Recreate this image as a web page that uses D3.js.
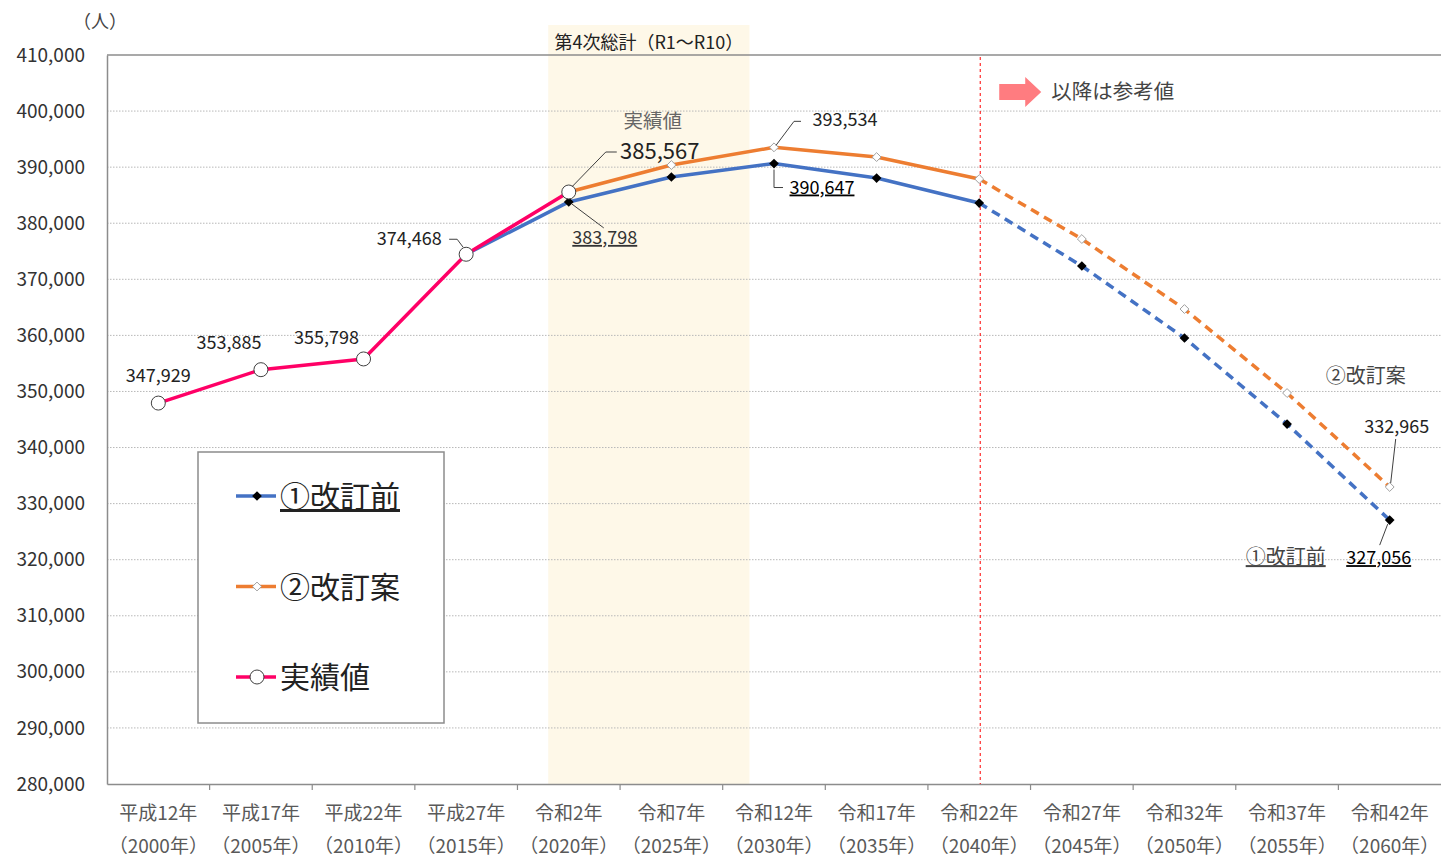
<!DOCTYPE html>
<html>
<head>
<meta charset="utf-8">
<script src="https://cdn.jsdelivr.net/npm/d3@7"></script>
<style>
  body { margin: 0; background: #fff; }
  svg { display: block; font-family: "Noto Sans CJK JP", "Noto Sans", sans-serif; }
</style>
</head>
<body>
<div id="chart"></div>
<script>
// categories
const eraLabels = ['平成12年', '平成17年', '平成22年', '平成27年', '令和2年', '令和7年', '令和12年',
  '令和17年', '令和22年', '令和27年', '令和32年', '令和37年', '令和42年'];
const years = [2000, 2005, 2010, 2015, 2020, 2025, 2030, 2035, 2040, 2045, 2050, 2055, 2060];

// series
const actual = [347929, 353885, 355798, 374468, 385567];                // 2000-2020
const beforeYears = [2015, 2020, 2025, 2030, 2035, 2040, 2045, 2050, 2055, 2060];
const beforeVals = [374468, 383798, 388240, 390647, 388060, 383600, 372370, 359530, 344190, 327056];
const planYears = [2020, 2025, 2030, 2035, 2040, 2045, 2050, 2055, 2060];
const planVals = [385567, 390380, 393534, 391800, 387880, 377180, 364700, 349720, 332965];

const yTicks = d3.range(280000, 410001, 10000);
const planPeriod = [2019, 2029];   // 第4次総計 R1〜R10
const refYear = 2040;              // 以降は参考値

const width = 1441, height = 858;
const margin = { top: 55, right: 0, bottom: 74, left: 107 };

const svg = d3.select('#chart').append('svg')
  .attr('width', width).attr('height', height);

const x = d3.scaleBand().domain(years).range([margin.left, width - margin.right]).padding(0);
const y = d3.scaleLinear().domain([280000, 410000]).range([height - margin.bottom, margin.top]);
const step = x.bandwidth();
const xc = (yr) => x(years[0]) + step / 2 + (yr - years[0]) / 5 * step;

const fmt = d3.format(',');

// plan period shading
svg.append('rect')
  .attr('x', xc(planPeriod[0])).attr('width', xc(planPeriod[1]) - xc(planPeriod[0]) - 4)
  .attr('y', 25).attr('height', y(280000) - 25)
  .attr('fill', '#fef8e8');

svg.append('text').attr('x', (xc(planPeriod[0]) + xc(planPeriod[1])) / 2 - 2).attr('y', 49)
  .attr('text-anchor', 'middle').attr('font-size', 18).attr('fill', '#222')
  .text('第4次総計（R1〜R10）');

// grid
svg.append('g').selectAll('line').data(yTicks.slice(1, -1)).join('line')
  .attr('x1', margin.left).attr('x2', width - margin.right)
  .attr('y1', d => y(d)).attr('y2', d => y(d))
  .attr('stroke', '#b8b8b8').attr('stroke-dasharray', '1.5,1.5');
svg.append('line')
  .attr('x1', margin.left).attr('x2', width).attr('y1', y(410000)).attr('y2', y(410000))
  .attr('stroke', '#8c8c8c').attr('stroke-width', 1.5);

// y axis
const yAxis = svg.append('g').attr('transform', `translate(${margin.left},0)`)
  .call(d3.axisLeft(y).tickValues(yTicks).tickFormat(fmt).tickSize(0).tickPadding(22));
yAxis.select('.domain').attr('stroke', '#8c8c8c').attr('stroke-width', 1.5);
yAxis.selectAll('text').attr('font-size', 19).attr('fill', '#333')
  .attr('font-family', '"Noto Sans CJK JP", sans-serif');

svg.append('text').attr('x', 100).attr('y', 28).attr('text-anchor', 'middle')
  .attr('font-size', 18).attr('fill', '#444').text('（人）');

// x axis
const xAxis = svg.append('g').attr('transform', `translate(0,${y(280000)})`)
  .call(d3.axisBottom(x).tickSize(0).tickFormat(() => ''));
xAxis.select('.domain').attr('stroke', '#8c8c8c').attr('stroke-width', 1.5);
xAxis.selectAll('.tick').remove();
svg.append('g').selectAll('line').data(years.slice(1)).join('line')
  .attr('x1', d => x(d)).attr('x2', d => x(d))
  .attr('y1', y(280000)).attr('y2', y(280000) + 6)
  .attr('stroke', '#8c8c8c').attr('stroke-width', 1.2);

const xl = svg.append('g').selectAll('text').data(years).join('text')
  .attr('x', d => x(d) + step / 2).attr('text-anchor', 'middle')
  .attr('font-size', 19).attr('fill', '#595959');
xl.append('tspan').attr('x', d => x(d) + step / 2).attr('y', 820).text((d, i) => eraLabels[i]);
xl.append('tspan').attr('x', d => x(d) + step / 2).attr('y', 853).text(d => `（${d}年）`);

// reference divider
svg.append('line')
  .attr('x1', xc(refYear) + 1).attr('x2', xc(refYear) + 1)
  .attr('y1', y(410000) + 2).attr('y2', y(280000))
  .attr('stroke', '#ff0000').attr('stroke-width', 1).attr('stroke-dasharray', '3,3');

// arrow + text
const ay = 92;
const ax = xc(refYear) + 20;
svg.append('path')
  .attr('d', `M${ax},${ay - 8} L${ax + 26},${ay - 8} L${ax + 26},${ay - 15} L${ax + 42},${ay} L${ax + 26},${ay + 15} L${ax + 26},${ay + 8} L${ax},${ay + 8} Z`)
  .attr('fill', '#ff7c80');
svg.append('text').attr('x', ax + 52).attr('y', ay + 7).attr('font-size', 20.5).attr('fill', '#444')
  .text('以降は参考値');

// lines
const line = d3.line().x(d => xc(d[0])).y(d => y(d[1]));
const beforePts = beforeYears.map((yr, i) => [yr, beforeVals[i]]);
const planPts = planYears.map((yr, i) => [yr, planVals[i]]);
const actualPts = years.slice(0, actual.length).map((yr, i) => [yr, actual[i]]);

function drawSeries(pts, color) {
  const solid = pts.filter(d => d[0] <= refYear);
  const dashed = pts.filter(d => d[0] >= refYear);
  svg.append('path').attr('d', line(solid)).attr('fill', 'none')
    .attr('stroke', color).attr('stroke-width', 3.5).attr('stroke-linejoin', 'round');
  svg.append('path').attr('d', line(dashed)).attr('fill', 'none')
    .attr('stroke', color).attr('stroke-width', 3.5).attr('stroke-dasharray', '9,6');
}
drawSeries(beforePts, '#4472c4');
drawSeries(planPts, '#ed7d31');
svg.append('path').attr('d', line(actualPts)).attr('fill', 'none')
  .attr('stroke', '#ff0066').attr('stroke-width', 3.5).attr('stroke-linejoin', 'round');

const diamond = d3.symbol().type(d3.symbolDiamond2);
svg.append('g').selectAll('path').data(beforePts.slice(1)).join('path')
  .attr('transform', d => `translate(${xc(d[0])},${y(d[1])})`)
  .attr('d', diamond.size(60)()).attr('fill', '#000');
svg.append('g').selectAll('path').data(planPts.slice(1)).join('path')
  .attr('transform', d => `translate(${xc(d[0])},${y(d[1])})`)
  .attr('d', diamond.size(50)()).attr('fill', '#fff').attr('stroke', '#a0a0a0').attr('stroke-width', 1);
svg.append('g').selectAll('circle').data(actualPts).join('circle')
  .attr('cx', d => xc(d[0])).attr('cy', d => y(d[1])).attr('r', 7)
  .attr('fill', '#fff').attr('stroke', '#404040').attr('stroke-width', 1);

// data labels
function label(tx, ty, text, opts = {}) {
  return svg.append('text').attr('x', tx).attr('y', ty)
    .attr('font-size', opts.size || 18).attr('fill', opts.fill || '#222')
    .attr('text-anchor', opts.anchor || 'middle')
    .attr('text-decoration', opts.underline ? 'underline' : null)
    .text(text);
}
function leader(points) {
  svg.append('path').attr('d', d3.line()(points)).attr('fill', 'none')
    .attr('stroke', '#404040').attr('stroke-width', 1);
}

label(xc(2000), y(actual[0]) - 21, fmt(actual[0]));
label(xc(2005) - 32, y(actual[1]) - 21, fmt(actual[1]));
label(xc(2010) - 37, y(actual[2]) - 15, fmt(actual[2]));
label(xc(2015) - 57, y(actual[3]) - 9, fmt(actual[3]));
leader([[xc(2015) - 17, y(actual[3]) - 15], [xc(2015) - 9, y(actual[3]) - 15], [xc(2015) - 3, y(actual[3]) - 7]]);

// 2020 actual
label(xc(2020) + 84, y(actual[4]) - 64, '実績値', { size: 19.5, fill: '#666' });
label(xc(2020) + 91, y(actual[4]) - 33, fmt(actual[4]), { size: 22 });
leader([[xc(2020) + 3, y(actual[4]) - 5], [xc(2020) + 37, y(actual[4]) - 40], [xc(2020) + 48, y(actual[4]) - 40]]);
label(xc(2020) + 36, y(beforeVals[1]) + 42, fmt(beforeVals[1]), { underline: true, fill: '#333' });
leader([[xc(2020) + 3, y(beforeVals[1]) + 2], [xc(2020) + 35, y(beforeVals[1]) + 26]]);

// 2030
label(xc(2030) + 71, y(planVals[2]) - 21, fmt(planVals[2]));
leader([[xc(2030) + 2, y(planVals[2]) - 2], [xc(2030) + 20, y(planVals[2]) - 26], [xc(2030) + 27, y(planVals[2]) - 26]]);
label(xc(2030) + 48, y(beforeVals[3]) + 30, fmt(beforeVals[3]), { underline: true, fill: '#000' });
leader([[xc(2030), y(beforeVals[3]) + 6], [xc(2030), y(beforeVals[3]) + 24], [xc(2030) + 9, y(beforeVals[3]) + 24]]);

// 2060
label(xc(2060) - 24, y(planVals[8]) - 104, '②改訂案', { size: 20, fill: '#444' });
label(xc(2060) + 7, y(planVals[8]) - 54, fmt(planVals[8]));
leader([[xc(2060) + 6, y(planVals[8]) - 48], [xc(2060) + 1, y(planVals[8]) - 4]]);
label(xc(2060) - 104, y(beforeVals[9]) + 44, '①改訂前', { size: 20, fill: '#444', underline: true });
label(xc(2060) - 11, y(beforeVals[9]) + 44, fmt(beforeVals[9]), { underline: true, fill: '#000' });
leader([[xc(2060) - 10, y(beforeVals[9]) + 25], [xc(2060) - 2, y(beforeVals[9]) + 4]]);

// legend
const lg = svg.append('g');
lg.append('rect').attr('x', 198).attr('y', 452).attr('width', 246).attr('height', 271)
  .attr('fill', '#fff').attr('stroke', '#8c8c8c').attr('stroke-width', 1.5);
const legendItems = [
  { name: '①改訂前', color: '#4472c4', mark: 'before', underline: true },
  { name: '②改訂案', color: '#ed7d31', mark: 'plan' },
  { name: '実績値', color: '#ff0066', mark: 'actual' },
];
legendItems.forEach((d, i) => {
  const cy = 496 + i * 90.5;
  lg.append('line').attr('x1', 236).attr('x2', 276).attr('y1', cy).attr('y2', cy)
    .attr('stroke', d.color).attr('stroke-width', 3.5);
  if (d.mark === 'before') {
    lg.append('path').attr('transform', `translate(257,${cy})`).attr('d', diamond.size(60)()).attr('fill', '#000');
  } else if (d.mark === 'plan') {
    lg.append('path').attr('transform', `translate(257,${cy})`).attr('d', diamond.size(50)())
      .attr('fill', '#fff').attr('stroke', '#a0a0a0');
  } else {
    lg.append('circle').attr('cx', 257).attr('cy', cy).attr('r', 7)
      .attr('fill', '#fff').attr('stroke', '#404040');
  }
  lg.append('text').attr('x', 280).attr('y', cy + 11).attr('font-size', 30).attr('fill', '#222')
    .attr('text-decoration', d.underline ? 'underline' : null).text(d.name);
});
</script>
</body>
</html>
